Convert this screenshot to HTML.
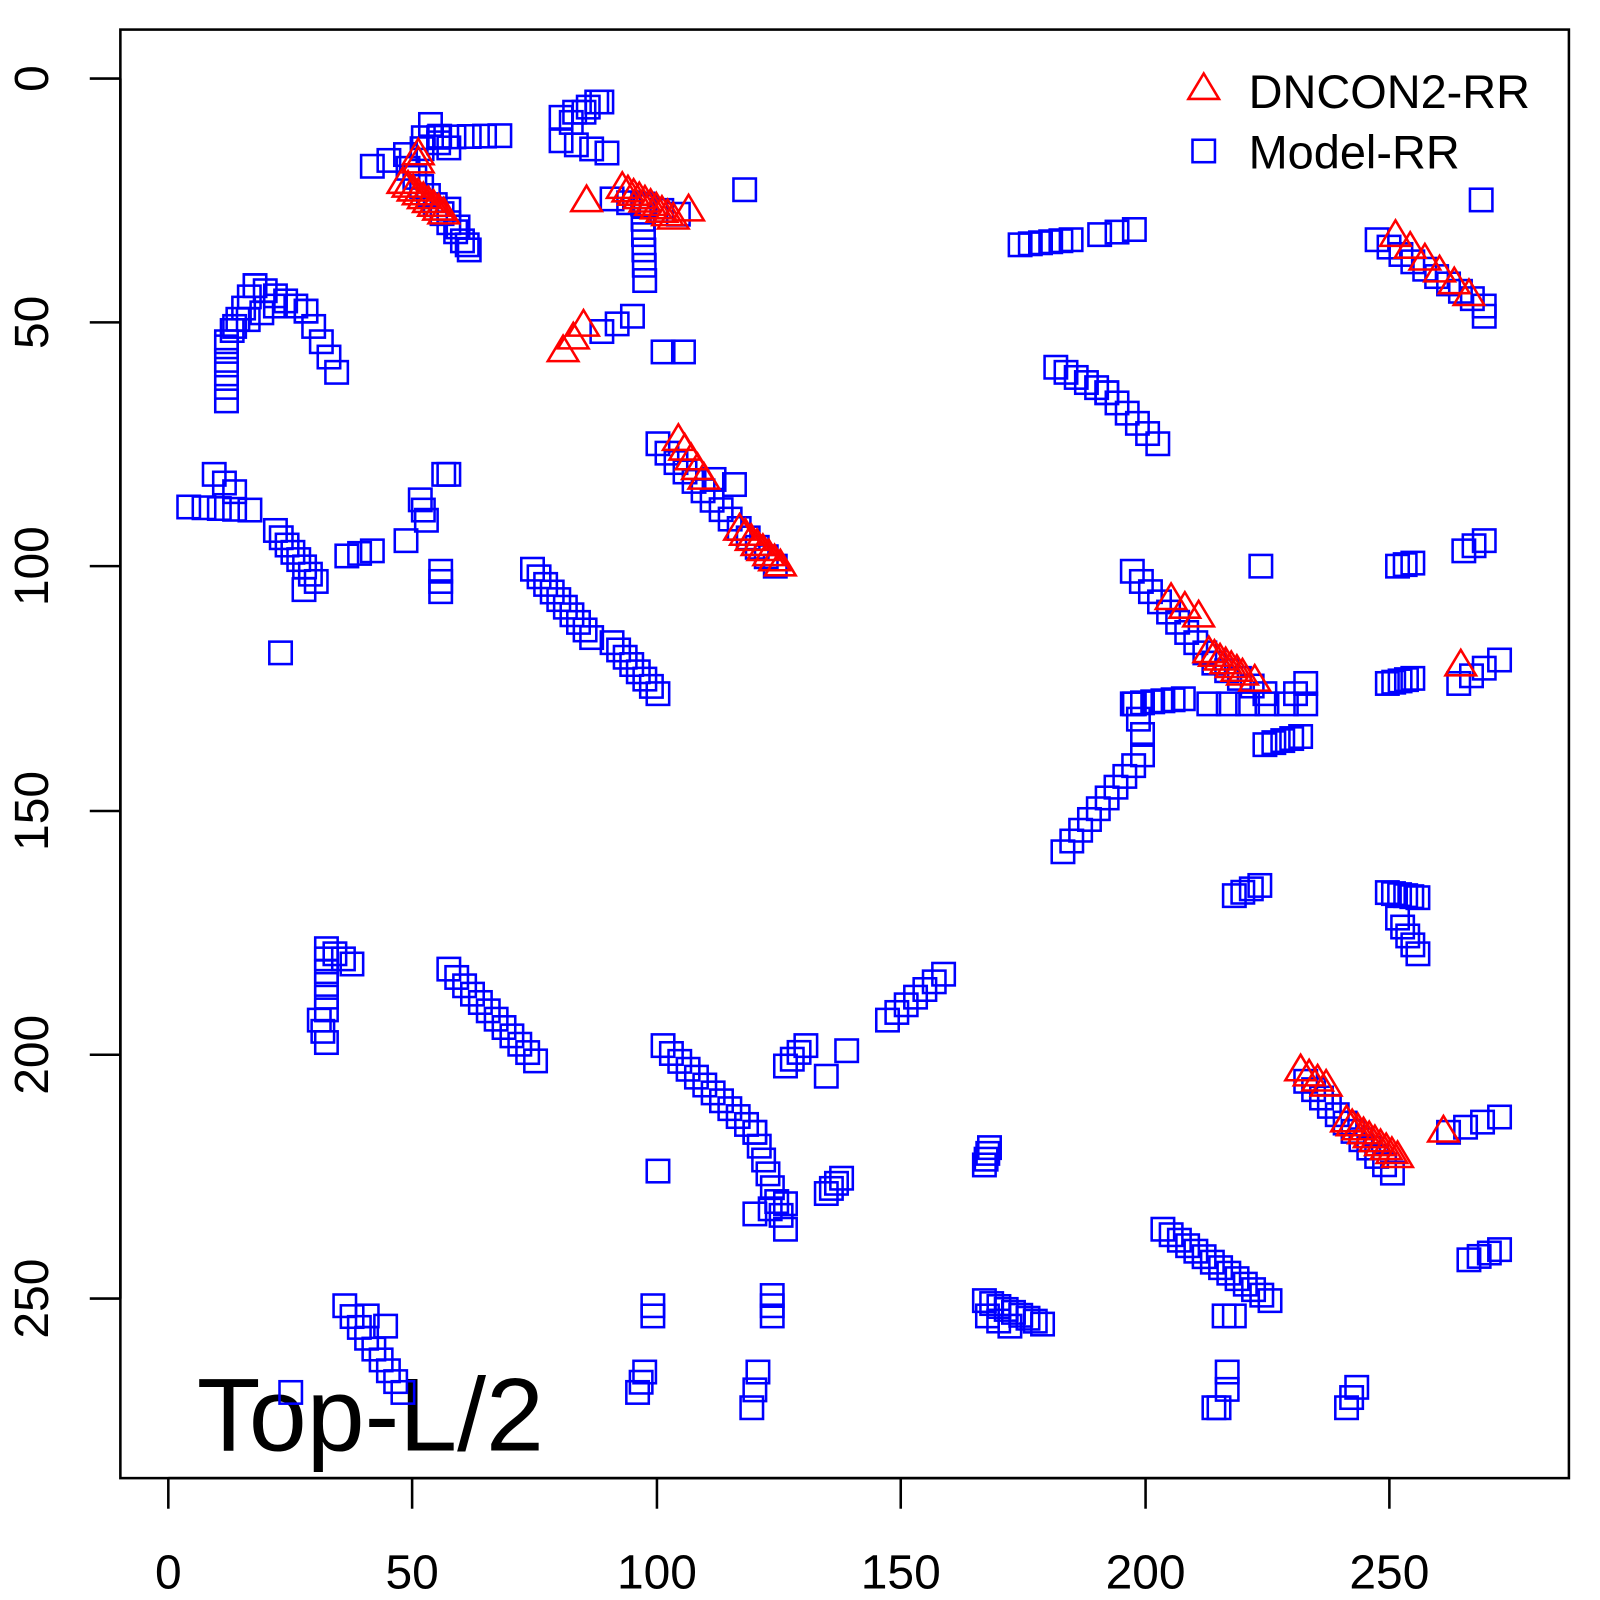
<!DOCTYPE html>
<html><head><meta charset="utf-8"><style>html,body{margin:0;padding:0;background:#fff}svg{display:block}</style></head>
<body>
<svg width="1600" height="1600" xmlns="http://www.w3.org/2000/svg" font-family="Liberation Sans, sans-serif">
<g transform="scale(1.0201)">
<rect x="118" y="29" width="1420" height="1420" fill="none" stroke="#000" stroke-width="2.5"/>
<g stroke="#000" stroke-width="2.5">
<line x1="165" y1="1449" x2="1362" y2="1449"/>
<line x1="165" y1="1449" x2="165" y2="1479"/><line x1="404" y1="1449" x2="404" y2="1479"/><line x1="644" y1="1449" x2="644" y2="1479"/><line x1="883" y1="1449" x2="883" y2="1479"/><line x1="1123" y1="1449" x2="1123" y2="1479"/><line x1="1362" y1="1449" x2="1362" y2="1479"/>
<line x1="118" y1="77" x2="118" y2="1273"/>
<line x1="88" y1="77" x2="118" y2="77"/><line x1="88" y1="316" x2="118" y2="316"/><line x1="88" y1="555" x2="118" y2="555"/><line x1="88" y1="795" x2="118" y2="795"/><line x1="88" y1="1034" x2="118" y2="1034"/><line x1="88" y1="1273" x2="118" y2="1273"/>
</g>
<g font-size="47" text-anchor="middle" fill="#000">
<text x="165" y="1557">0</text><text x="404" y="1557">50</text><text x="644" y="1557">100</text><text x="883" y="1557">150</text><text x="1123" y="1557">200</text><text x="1362" y="1557">250</text>
<text transform="translate(47,77) rotate(-90)">0</text>
<text transform="translate(47,316) rotate(-90)">50</text>
<text transform="translate(47,555) rotate(-90)">100</text>
<text transform="translate(47,795) rotate(-90)">150</text>
<text transform="translate(47,1034) rotate(-90)">200</text>
<text transform="translate(47,1273) rotate(-90)">250</text>
</g>
<text x="193" y="1422" font-size="102">Top-L/2</text>
<polygon points="1165,97 1180,72 1195,97" fill="none" stroke="#f00" stroke-width="2.5"/>
<text x="1224" y="106" font-size="46">DNCON2-RR</text>
<rect x="1169" y="137" width="22" height="22" fill="none" stroke="#00f" stroke-width="2.5"/>
<text x="1224" y="165" font-size="46">Model-RR</text>
<g id="sq" fill="none" stroke="#0000ff" stroke-width="2.5"></g>
<g id="tr" fill="none" stroke="#ff0000" stroke-width="2.5"></g>
</g>
</svg>
<script>
var S=[
[365,163,430,140,5],[415,135,490,133,6],[422,122,440,145,3],[400,165,460,245,10],[440,205,458,240,3],
[550,115,590,100,4],[550,138,595,150,4],[560,120,585,100,3],[630,200,632,275,6],[600,195,665,210,5],
[730,186,730,186,1],[590,325,620,310,3],[650,345,670,345,2],
[222,335,250,280,6],[250,280,300,305,6],[300,305,330,365,5],[222,340,222,393,5],[230,320,270,300,4],
[185,497,245,500,5],[210,465,230,482,3],[270,520,310,570,8],[298,578,298,578,1],[340,545,365,540,3],[398,530,398,530,1],[412,490,418,510,3],[435,465,440,465,2],[432,560,432,580,3],[275,640,275,640,1],
[522,558,580,625,10],[600,630,645,680,8],
[645,435,760,555,14],[700,470,720,475,2],
[1000,240,1050,235,6],[1078,230,1112,225,3],
[1035,360,1085,385,6],[1085,385,1135,435,6],
[1110,560,1190,650,10],[1190,650,1240,680,5],[1236,555,1236,555,1],[1110,690,1160,685,6],[1185,690,1280,690,6],[1270,680,1280,670,2],
[1042,835,1120,740,10],[1112,690,1120,720,3],[1240,730,1275,722,5],
[1210,878,1235,868,4],[1360,875,1390,880,6],[1370,900,1390,935,5],
[1370,555,1385,552,3],[1435,540,1455,530,3],[1360,670,1385,665,5],[1430,670,1455,655,3],[1470,647,1470,647,1],
[1350,235,1455,300,10],[1452,196,1452,196,1],[1455,310,1455,305,1],
[320,930,345,945,4],[320,940,320,990,5],[313,1000,320,1022,3],
[440,950,525,1040,12],
[650,1025,740,1110,12],[740,1110,770,1205,8],[645,1148,645,1148,1],[740,1190,770,1180,3],
[770,1045,790,1025,4],[810,1055,830,1030,2],[870,1000,925,955,7],
[810,1170,825,1155,4],[965,1142,970,1125,4],
[1140,1205,1245,1275,14],[1200,1290,1210,1290,2],
[1280,1060,1365,1150,12],[1420,1110,1470,1095,4],[1440,1235,1470,1225,4],
[338,1280,395,1365,9],[360,1290,378,1300,2],[285,1365,285,1365,1],
[640,1280,640,1290,2],[625,1365,632,1345,3],[757,1270,757,1290,3],[743,1345,737,1380,3],
[965,1275,1022,1298,9],[968,1290,990,1300,3],[1203,1345,1203,1362,2],[1190,1380,1195,1380,2],[1320,1380,1330,1360,3]
];
var T=[
[395,180,435,210,9],[410,152,410,160,2],[575,198,575,198,1],[610,185,660,215,10],[675,207,675,207,1],
[552,345,572,320,3],[665,432,690,470,5],[725,520,765,555,8],
[1148,588,1175,605,3],[1185,640,1218,662,7],[1230,668,1230,668,1],
[1368,232,1440,290,6],[1432,653,1432,653,1],
[1275,1050,1300,1065,4],[1320,1100,1370,1135,10],[1415,1110,1415,1110,1]
];
var ns="http://www.w3.org/2000/svg",sq=document.getElementById('sq'),tr=document.getElementById('tr');
function pts(a,f){var n=a[4];for(var i=0;i<n;i++){var t=n>1?i/(n-1):0;f(a[0]+(a[2]-a[0])*t,a[1]+(a[3]-a[1])*t);}}
S.forEach(function(a){pts(a,function(x,y){var r=document.createElementNS(ns,'rect');r.setAttribute('x',x-11);r.setAttribute('y',y-11);r.setAttribute('width',22);r.setAttribute('height',22);sq.appendChild(r);});});
T.forEach(function(a){pts(a,function(x,y){var p=document.createElementNS(ns,'polygon');p.setAttribute('points',(x-15)+','+(y+9)+' '+x+','+(y-16)+' '+(x+15)+','+(y+9));tr.appendChild(p);});});
</script>
</body></html>
